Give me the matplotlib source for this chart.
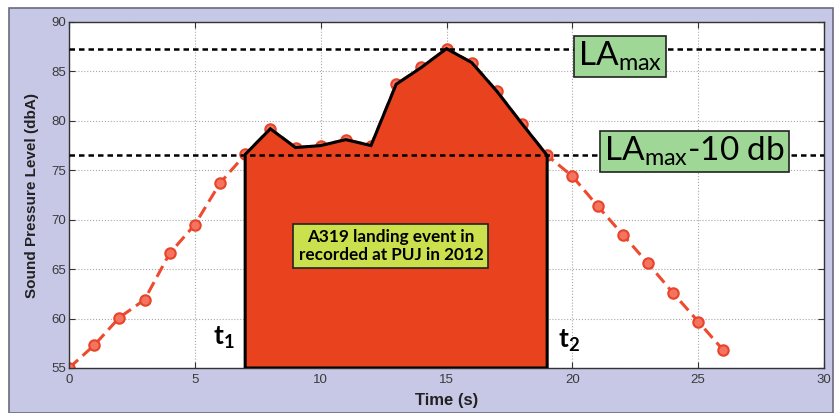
import numpy as np
import matplotlib.pyplot as plt
from matplotlib.patches import Rectangle

# sound level samples, one per second
time_s = np.arange(0, 27)
level_dba = [55.0, 57.3, 60.1, 61.9, 66.6, 69.5, 73.7, 76.6, 79.2, 77.3,
             77.5, 78.1, 77.5, 83.7, 85.4, 87.3, 85.9, 83.0, 79.7, 76.5,
             74.4, 71.4, 68.5, 65.6, 62.6, 59.7, 56.8]

la_max = 87.3
la_max_10 = 76.5
t1, t2 = 7, 19

xticks = [0, 5, 10, 15, 20, 25, 30]
yticks = [55, 60, 65, 70, 75, 80, 85, 90]

fig = plt.figure(figsize=(8.36, 4.13), dpi=100, facecolor='white')
frame = Rectangle((9 / 836, 0), 824 / 836, 405 / 413,
                  transform=fig.transFigure, facecolor='#c7c8e6',
                  edgecolor='#6a6a80', linewidth=1.2, zorder=-5)
fig.add_artist(frame)

ax = fig.add_axes([69 / 836, 45 / 413, 755 / 836, 346 / 413])
ax.set_zorder(2)
ax.set_facecolor('white')

red = '#ee4a2e'
ax.plot(time_s, level_dba, color=red, linestyle='--', linewidth=2.2,
        dashes=(4, 2), marker='o', markersize=7.5, markerfacecolor='#f47460',
        markeredgecolor='#e8442a', markeredgewidth=1.5, zorder=2)

# shaded event window between t1 and t2
x_evt = list(time_s[t1:t2 + 1])
y_evt = level_dba[t1:t2 + 1]
ax.fill([t1] + x_evt + [t2], [55] + y_evt + [55], facecolor='#e9421f',
        edgecolor='black', linewidth=2.2, zorder=3)

for lvl in (la_max, la_max_10):
    ax.axhline(lvl, color='black', linestyle=(0, (2.2, 1.6)), linewidth=1.8,
               zorder=4)

ax.set_xlim(0, 30)
ax.set_ylim(55, 90)
ax.set_xticks(xticks)
ax.set_yticks(yticks)
ax.grid(True, color='#a8a8a8', linestyle=':', linewidth=0.8)
ax.tick_params(direction='in', length=4, top=True, right=True,
               labelsize=9.5, labelcolor='#3a3a3a', color='#333333')
for lab in ax.get_xticklabels() + ax.get_yticklabels():
    lab.set_family('Liberation Sans')
ax.tick_params(axis='y', pad=2)
ax.tick_params(axis='x', pad=4)
for sp in ax.spines.values():
    sp.set_color('#333333')
    sp.set_linewidth(1.0)

ax.set_xlabel('Time (s)', family='Liberation Sans', fontsize=12,
              fontweight='bold', color='#222222', labelpad=5)
ax.set_ylabel('Sound Pressure Level (dbA)', family='Liberation Sans',
              fontsize=11, fontweight='bold', color='#222222', labelpad=9)

green = dict(boxstyle='square,pad=0.12', facecolor='#9fd896',
             edgecolor='#222222', linewidth=1.2)
ax.text(21.9, 86.55, r'$\mathregular{LA_{max}}$', family='Lato',
        fontsize=24, ha='center', va='center', bbox=green, zorder=6)
ax.text(24.87, 76.9, r'$\mathregular{LA_{max}}$-10 db', family='Lato',
        fontsize=24, ha='center', va='center', bbox=green, zorder=6)

ax.text(12.79, 67.35, 'A319 landing event in\nrecorded at PUJ in 2012',
        family='Lato', fontsize=12.3, fontweight='bold', ha='center',
        va='center', linespacing=1.1, zorder=6,
        bbox=dict(boxstyle='square,pad=0.3', facecolor='#cbe04c',
                  edgecolor='#222222', linewidth=1.2))

ax.text(6.15, 58.0, r'$\mathregular{t_{1}}$', family='Lato', fontsize=19,
        fontweight='bold', ha='center', va='center', zorder=6)
ax.text(19.85, 57.7, r'$\mathregular{t_{2}}$', family='Lato', fontsize=19,
        fontweight='bold', ha='center', va='center', zorder=6)

fig.savefig('out.png', dpi=100, facecolor=fig.get_facecolor())
